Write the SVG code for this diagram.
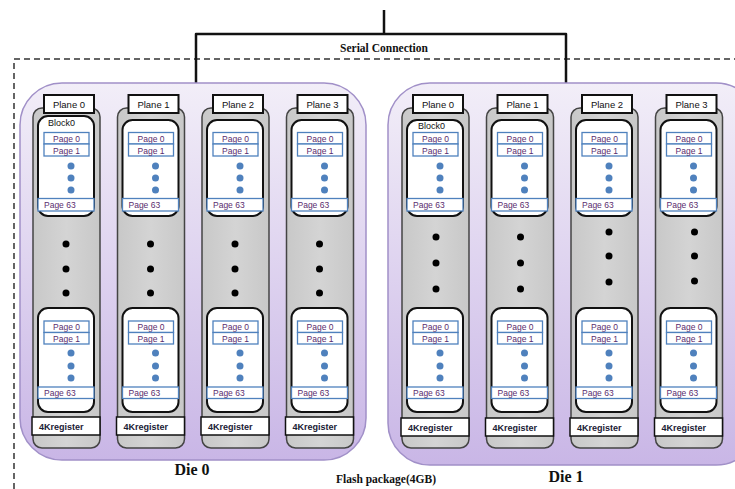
<svg xmlns="http://www.w3.org/2000/svg" width="735" height="489" viewBox="0 0 735 489">
<style>
.die{stroke:#a190c8;stroke-width:1.5}
.col{fill:url(#gray);stroke:#444;stroke-width:1.5}
.lbl{fill:#fff;stroke:#111;stroke-width:2}
.blk{fill:#fff;stroke:#111;stroke-width:2}
.pg{fill:#fff;stroke:#4f81bd;stroke-width:1.3}
.bd{fill:#4f81bd}
.kd{fill:#000}
.reg{fill:#fff;stroke:#111;stroke-width:1.5}
.t{font-family:"Liberation Sans",Arial,sans-serif;fill:#111}
.pl{font-size:9.5px;text-anchor:middle}
.bk{font-size:9px}
.pt{font-size:8.5px;fill:#5a2d6e;text-anchor:middle}
.p63{font-size:8.5px;fill:#5a2d6e}
.rt{font-size:9px;font-weight:bold;fill:#1a2035}
.s{font-family:"Liberation Serif","Times New Roman",serif;font-weight:bold;fill:#111}
</style>
<defs>
<linearGradient id="purp" x1="0" y1="0" x2="0" y2="1">
<stop offset="0" stop-color="#f2eef8"/>
<stop offset="1" stop-color="#c9b6e6"/>
</linearGradient>
<linearGradient id="gray" x1="0" y1="0" x2="1" y2="0">
<stop offset="0" stop-color="#c8c8c8"/>
<stop offset="0.5" stop-color="#d4d4d4"/>
<stop offset="1" stop-color="#c8c8c8"/>
</linearGradient>
</defs>
<rect width="735" height="489" fill="#fff"/>
<g id="package">
<path d="M14 489 V59 H735" fill="none" stroke="#333" stroke-width="1.5" stroke-dasharray="6 4"/>
<text class="s" x="386" y="483" font-size="11.5" text-anchor="middle">Flash package(4GB)</text>
</g>
<g id="connectors" fill="none" stroke="#111" stroke-width="2.5" stroke-linejoin="round">
<path d="M384 10 V34"/>
<path d="M196 83 V34 H566 V83"/>
</g>
<text class="s" x="384" y="52" font-size="11.5" text-anchor="middle">Serial Connection</text>

<g id="die0">
<rect class="die" x="20" y="83" width="346" height="377" rx="42" fill="url(#purp)"/>
<text class="s" x="192" y="475" font-size="16" text-anchor="middle">Die 0</text>
</g>
<g id="die1">
<rect class="die" x="388" y="83" width="370" height="382" rx="42" fill="url(#purp)"/>
<text class="s" x="566" y="482" font-size="16" text-anchor="middle">Die 1</text>
</g>

<g id="die0-plane0" transform="translate(33,0)">
<rect class="col" x="0" y="108" width="67" height="340" rx="9"/>
<rect class="lbl" x="11" y="95" width="50" height="18"/>
<text class="t pl" x="36" y="108">Plane 0</text>
<rect class="blk" x="5" y="116" width="56" height="100" rx="10"/>
<text class="t bk" x="15" y="126">Block0</text>
<rect class="pg" x="11" y="132.5" width="45" height="11.5"/><text class="t pt" x="33.5" y="141.5">Page 0</text>
<rect class="pg" x="11" y="144" width="45" height="12"/><text class="t pt" x="33.5" y="153.5">Page 1</text>
<circle class="bd" cx="38" cy="166" r="3.5"/><circle class="bd" cx="38" cy="178" r="3.5"/><circle class="bd" cx="38" cy="190" r="3.5"/>
<rect class="pg" x="5" y="198.5" width="56" height="12.5"/><text class="t p63" x="11" y="208">Page 63</text>
<circle class="kd" cx="33" cy="244" r="3.5"/><circle class="kd" cx="33" cy="269" r="3.5"/><circle class="kd" cx="33" cy="293" r="3.5"/>
<rect class="blk" x="5" y="308" width="56" height="104" rx="10"/>
<rect class="pg" x="11" y="321" width="45" height="11.5"/><text class="t pt" x="33.5" y="330">Page 0</text>
<rect class="pg" x="11" y="332.5" width="45" height="11.5"/><text class="t pt" x="33.5" y="341.5">Page 1</text>
<circle class="bd" cx="38" cy="353" r="3.5"/><circle class="bd" cx="38" cy="366" r="3.5"/><circle class="bd" cx="38" cy="378" r="3.5"/>
<rect class="pg" x="5" y="387" width="56" height="11.5"/><text class="t p63" x="11" y="396">Page 63</text>
<rect class="reg" x="-1" y="417" width="68" height="18"/><text class="t rt" x="6" y="429.5">4Kregister</text>
</g>

<g id="die0-plane1" transform="translate(117.5,0)">
<rect class="col" x="0" y="108" width="67" height="340" rx="9"/>
<rect class="lbl" x="11" y="95" width="50" height="18"/>
<text class="t pl" x="36" y="108">Plane 1</text>
<rect class="blk" x="5" y="120" width="56" height="96" rx="10"/>
<rect class="pg" x="11" y="132.5" width="45" height="11.5"/><text class="t pt" x="33.5" y="141.5">Page 0</text>
<rect class="pg" x="11" y="144" width="45" height="12"/><text class="t pt" x="33.5" y="153.5">Page 1</text>
<circle class="bd" cx="38" cy="166" r="3.5"/><circle class="bd" cx="38" cy="178" r="3.5"/><circle class="bd" cx="38" cy="190" r="3.5"/>
<rect class="pg" x="5" y="198.5" width="56" height="12.5"/><text class="t p63" x="11" y="208">Page 63</text>
<circle class="kd" cx="33" cy="244" r="3.5"/><circle class="kd" cx="33" cy="269" r="3.5"/><circle class="kd" cx="33" cy="293" r="3.5"/>
<rect class="blk" x="5" y="308" width="56" height="104" rx="10"/>
<rect class="pg" x="11" y="321" width="45" height="11.5"/><text class="t pt" x="33.5" y="330">Page 0</text>
<rect class="pg" x="11" y="332.5" width="45" height="11.5"/><text class="t pt" x="33.5" y="341.5">Page 1</text>
<circle class="bd" cx="38" cy="353" r="3.5"/><circle class="bd" cx="38" cy="366" r="3.5"/><circle class="bd" cx="38" cy="378" r="3.5"/>
<rect class="pg" x="5" y="387" width="56" height="11.5"/><text class="t p63" x="11" y="396">Page 63</text>
<rect class="reg" x="-1" y="417" width="68" height="18"/><text class="t rt" x="6" y="429.5">4Kregister</text>
</g>

<g id="die0-plane2" transform="translate(202,0)">
<rect class="col" x="0" y="108" width="67" height="340" rx="9"/>
<rect class="lbl" x="11" y="95" width="50" height="18"/>
<text class="t pl" x="36" y="108">Plane 2</text>
<rect class="blk" x="5" y="120" width="56" height="96" rx="10"/>
<rect class="pg" x="11" y="132.5" width="45" height="11.5"/><text class="t pt" x="33.5" y="141.5">Page 0</text>
<rect class="pg" x="11" y="144" width="45" height="12"/><text class="t pt" x="33.5" y="153.5">Page 1</text>
<circle class="bd" cx="38" cy="166" r="3.5"/><circle class="bd" cx="38" cy="178" r="3.5"/><circle class="bd" cx="38" cy="190" r="3.5"/>
<rect class="pg" x="5" y="198.5" width="56" height="12.5"/><text class="t p63" x="11" y="208">Page 63</text>
<circle class="kd" cx="33" cy="244" r="3.5"/><circle class="kd" cx="33" cy="269" r="3.5"/><circle class="kd" cx="33" cy="293" r="3.5"/>
<rect class="blk" x="5" y="308" width="56" height="104" rx="10"/>
<rect class="pg" x="11" y="321" width="45" height="11.5"/><text class="t pt" x="33.5" y="330">Page 0</text>
<rect class="pg" x="11" y="332.5" width="45" height="11.5"/><text class="t pt" x="33.5" y="341.5">Page 1</text>
<circle class="bd" cx="38" cy="353" r="3.5"/><circle class="bd" cx="38" cy="366" r="3.5"/><circle class="bd" cx="38" cy="378" r="3.5"/>
<rect class="pg" x="5" y="387" width="56" height="11.5"/><text class="t p63" x="11" y="396">Page 63</text>
<rect class="reg" x="-1" y="417" width="68" height="18"/><text class="t rt" x="6" y="429.5">4Kregister</text>
</g>

<g id="die0-plane3" transform="translate(286.5,0)">
<rect class="col" x="0" y="108" width="67" height="340" rx="9"/>
<rect class="lbl" x="11" y="95" width="50" height="18"/>
<text class="t pl" x="36" y="108">Plane 3</text>
<rect class="blk" x="5" y="120" width="56" height="96" rx="10"/>
<rect class="pg" x="11" y="132.5" width="45" height="11.5"/><text class="t pt" x="33.5" y="141.5">Page 0</text>
<rect class="pg" x="11" y="144" width="45" height="12"/><text class="t pt" x="33.5" y="153.5">Page 1</text>
<circle class="bd" cx="38" cy="166" r="3.5"/><circle class="bd" cx="38" cy="178" r="3.5"/><circle class="bd" cx="38" cy="190" r="3.5"/>
<rect class="pg" x="5" y="198.5" width="56" height="12.5"/><text class="t p63" x="11" y="208">Page 63</text>
<circle class="kd" cx="33" cy="244" r="3.5"/><circle class="kd" cx="33" cy="269" r="3.5"/><circle class="kd" cx="33" cy="293" r="3.5"/>
<rect class="blk" x="5" y="308" width="56" height="104" rx="10"/>
<rect class="pg" x="11" y="321" width="45" height="11.5"/><text class="t pt" x="33.5" y="330">Page 0</text>
<rect class="pg" x="11" y="332.5" width="45" height="11.5"/><text class="t pt" x="33.5" y="341.5">Page 1</text>
<circle class="bd" cx="38" cy="353" r="3.5"/><circle class="bd" cx="38" cy="366" r="3.5"/><circle class="bd" cx="38" cy="378" r="3.5"/>
<rect class="pg" x="5" y="387" width="56" height="11.5"/><text class="t p63" x="11" y="396">Page 63</text>
<rect class="reg" x="-1" y="417" width="68" height="18"/><text class="t rt" x="6" y="429.5">4Kregister</text>
</g>

<g id="die1-plane0" transform="translate(402,0)">
<rect class="col" x="0" y="108" width="67" height="340" rx="9"/>
<rect class="lbl" x="11" y="95" width="50" height="18"/>
<text class="t pl" x="36" y="108">Plane 0</text>
<rect class="blk" x="5" y="120" width="56" height="96" rx="10"/>
<text class="t bk" x="16" y="129">Block0</text>
<rect class="pg" x="11" y="132.5" width="45" height="11.5"/><text class="t pt" x="33.5" y="141.5">Page 0</text>
<rect class="pg" x="11" y="144" width="45" height="12"/><text class="t pt" x="33.5" y="153.5">Page 1</text>
<circle class="bd" cx="38" cy="166" r="3.5"/><circle class="bd" cx="38" cy="178" r="3.5"/><circle class="bd" cx="38" cy="190" r="3.5"/>
<rect class="pg" x="5" y="198.5" width="56" height="12.5"/><text class="t p63" x="11" y="208">Page 63</text>
<circle class="kd" cx="34" cy="237" r="3.5"/><circle class="kd" cx="34" cy="263" r="3.5"/><circle class="kd" cx="34" cy="289" r="3.5"/>
<rect class="blk" x="5" y="308" width="56" height="104" rx="10"/>
<rect class="pg" x="11" y="321" width="45" height="11.5"/><text class="t pt" x="33.5" y="330">Page 0</text>
<rect class="pg" x="11" y="332.5" width="45" height="11.5"/><text class="t pt" x="33.5" y="341.5">Page 1</text>
<circle class="bd" cx="38" cy="353" r="3.5"/><circle class="bd" cx="38" cy="366" r="3.5"/><circle class="bd" cx="38" cy="378" r="3.5"/>
<rect class="pg" x="5" y="387" width="56" height="11.5"/><text class="t p63" x="11" y="396">Page 63</text>
<rect class="reg" x="-1" y="418" width="68" height="18"/><text class="t rt" x="6" y="430.5">4Kregister</text>
</g>

<g id="die1-plane1" transform="translate(486.5,0)">
<rect class="col" x="0" y="108" width="67" height="340" rx="9"/>
<rect class="lbl" x="11" y="95" width="50" height="18"/>
<text class="t pl" x="36" y="108">Plane 1</text>
<rect class="blk" x="5" y="120" width="56" height="96" rx="10"/>
<rect class="pg" x="11" y="132.5" width="45" height="11.5"/><text class="t pt" x="33.5" y="141.5">Page 0</text>
<rect class="pg" x="11" y="144" width="45" height="12"/><text class="t pt" x="33.5" y="153.5">Page 1</text>
<circle class="bd" cx="38" cy="166" r="3.5"/><circle class="bd" cx="38" cy="178" r="3.5"/><circle class="bd" cx="38" cy="190" r="3.5"/>
<rect class="pg" x="5" y="198.5" width="56" height="12.5"/><text class="t p63" x="11" y="208">Page 63</text>
<circle class="kd" cx="34" cy="237" r="3.5"/><circle class="kd" cx="34" cy="263" r="3.5"/><circle class="kd" cx="34" cy="289" r="3.5"/>
<rect class="blk" x="5" y="308" width="56" height="104" rx="10"/>
<rect class="pg" x="11" y="321" width="45" height="11.5"/><text class="t pt" x="33.5" y="330">Page 0</text>
<rect class="pg" x="11" y="332.5" width="45" height="11.5"/><text class="t pt" x="33.5" y="341.5">Page 1</text>
<circle class="bd" cx="38" cy="353" r="3.5"/><circle class="bd" cx="38" cy="366" r="3.5"/><circle class="bd" cx="38" cy="378" r="3.5"/>
<rect class="pg" x="5" y="387" width="56" height="11.5"/><text class="t p63" x="11" y="396">Page 63</text>
<rect class="reg" x="-1" y="418" width="68" height="18"/><text class="t rt" x="6" y="430.5">4Kregister</text>
</g>

<g id="die1-plane2" transform="translate(571,0)">
<rect class="col" x="0" y="108" width="67" height="340" rx="9"/>
<rect class="lbl" x="11" y="95" width="50" height="18"/>
<text class="t pl" x="36" y="108">Plane 2</text>
<rect class="blk" x="5" y="120" width="56" height="96" rx="10"/>
<rect class="pg" x="11" y="132.5" width="45" height="11.5"/><text class="t pt" x="33.5" y="141.5">Page 0</text>
<rect class="pg" x="11" y="144" width="45" height="12"/><text class="t pt" x="33.5" y="153.5">Page 1</text>
<circle class="bd" cx="38" cy="166" r="3.5"/><circle class="bd" cx="38" cy="178" r="3.5"/><circle class="bd" cx="38" cy="190" r="3.5"/>
<rect class="pg" x="5" y="198.5" width="56" height="12.5"/><text class="t p63" x="11" y="208">Page 63</text>
<circle class="kd" cx="38" cy="232" r="3.5"/><circle class="kd" cx="38" cy="256" r="3.5"/><circle class="kd" cx="38" cy="282" r="3.5"/>
<rect class="blk" x="5" y="308" width="56" height="104" rx="10"/>
<rect class="pg" x="11" y="321" width="45" height="11.5"/><text class="t pt" x="33.5" y="330">Page 0</text>
<rect class="pg" x="11" y="332.5" width="45" height="11.5"/><text class="t pt" x="33.5" y="341.5">Page 1</text>
<circle class="bd" cx="38" cy="353" r="3.5"/><circle class="bd" cx="38" cy="366" r="3.5"/><circle class="bd" cx="38" cy="378" r="3.5"/>
<rect class="pg" x="5" y="387" width="56" height="11.5"/><text class="t p63" x="11" y="396">Page 63</text>
<rect class="reg" x="-1" y="418" width="68" height="18"/><text class="t rt" x="6" y="430.5">4Kregister</text>
</g>

<g id="die1-plane3" transform="translate(655.5,0)">
<rect class="col" x="0" y="108" width="67" height="340" rx="9"/>
<rect class="lbl" x="11" y="95" width="50" height="18"/>
<text class="t pl" x="36" y="108">Plane 3</text>
<rect class="blk" x="5" y="120" width="56" height="96" rx="10"/>
<rect class="pg" x="11" y="132.5" width="45" height="11.5"/><text class="t pt" x="33.5" y="141.5">Page 0</text>
<rect class="pg" x="11" y="144" width="45" height="12"/><text class="t pt" x="33.5" y="153.5">Page 1</text>
<circle class="bd" cx="38" cy="166" r="3.5"/><circle class="bd" cx="38" cy="178" r="3.5"/><circle class="bd" cx="38" cy="190" r="3.5"/>
<rect class="pg" x="5" y="198.5" width="56" height="12.5"/><text class="t p63" x="11" y="208">Page 63</text>
<circle class="kd" cx="39" cy="232" r="3.5"/><circle class="kd" cx="39" cy="256" r="3.5"/><circle class="kd" cx="39" cy="281" r="3.5"/>
<rect class="blk" x="5" y="308" width="56" height="104" rx="10"/>
<rect class="pg" x="11" y="321" width="45" height="11.5"/><text class="t pt" x="33.5" y="330">Page 0</text>
<rect class="pg" x="11" y="332.5" width="45" height="11.5"/><text class="t pt" x="33.5" y="341.5">Page 1</text>
<circle class="bd" cx="38" cy="353" r="3.5"/><circle class="bd" cx="38" cy="366" r="3.5"/><circle class="bd" cx="38" cy="378" r="3.5"/>
<rect class="pg" x="5" y="387" width="56" height="11.5"/><text class="t p63" x="11" y="396">Page 63</text>
<rect class="reg" x="-1" y="418" width="68" height="18"/><text class="t rt" x="6" y="430.5">4Kregister</text>
</g>
</svg>
